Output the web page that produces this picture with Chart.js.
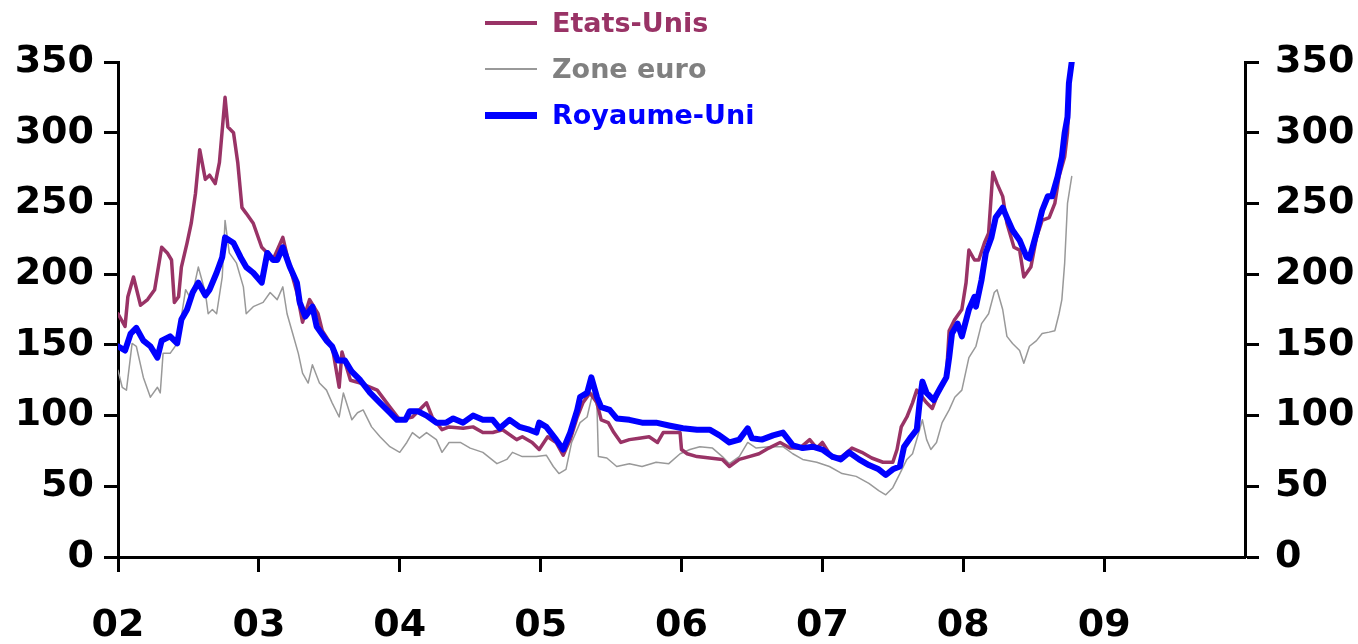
<!DOCTYPE html>
<html>
<head>
<meta charset="utf-8">
<script src="https://cdn.jsdelivr.net/npm/chart.js@4/dist/chart.umd.min.js"></script>
<style>
  html, body { margin: 0; padding: 0; background: #fff; }
  #wrap { position: relative; width: 1358px; height: 644px; }
  #legend { position: absolute; left: 485px; top: 0; font: bold 27px "DejaVu Sans", sans-serif; }
  .item { display: flex; align-items: center; height: 46px; line-height: 46px; }
  .swatch { width: 52px; margin-right: 15px; }
</style>
</head>
<body>
<div id="wrap">
  <canvas id="chart" width="1358" height="644"></canvas>
  <div id="legend"></div>
</div>
<script>
// spreads, daily index: [year, value]
const usData = [
  [2002.00,172],[2002.05,163],[2002.07,184],[2002.11,198],[2002.16,178],[2002.21,182],[2002.26,189],[2002.31,219],
  [2002.35,215],[2002.38,210],[2002.40,180],[2002.43,184],[2002.45,205],[2002.49,222],[2002.52,236],[2002.55,257],
  [2002.58,288],[2002.62,267],[2002.65,270],[2002.69,264],[2002.72,279],[2002.76,325],[2002.78,304],[2002.82,300],
  [2002.85,279],[2002.88,247],[2002.91,243],[2002.96,236],[2003.02,219],[2003.06,215],[2003.10,210],[2003.17,226],
  [2003.22,205],[2003.27,187],[2003.31,166],[2003.36,182],[2003.42,172],[2003.45,160],[2003.52,149],[2003.57,120],
  [2003.59,145],[2003.65,125],[2003.72,123],[2003.84,118],[2003.93,106],[2004.00,97],[2004.09,99],[2004.19,109],
  [2004.23,99],[2004.30,90],[2004.35,92],[2004.45,91],[2004.52,92],[2004.59,88],[2004.66,88],[2004.73,90],
  [2004.83,83],[2004.87,85],[2004.94,81],[2004.99,76],[2005.05,85],[2005.11,81],[2005.16,72],[2005.21,83],
  [2005.26,99],[2005.30,109],[2005.35,116],[2005.40,109],[2005.43,97],[2005.48,95],[2005.52,88],[2005.57,81],
  [2005.63,83],[2005.70,84],[2005.77,85],[2005.83,81],[2005.87,88],[2005.94,88],[2005.99,88],[2006.00,76],
  [2006.04,73],[2006.11,71],[2006.20,70],[2006.29,69],[2006.34,64],[2006.41,69],[2006.48,71],[2006.55,73],
  [2006.62,77],[2006.70,81],[2006.77,77],[2006.84,77],[2006.91,83],[2006.96,77],[2007.00,81],[2007.07,70],
  [2007.14,71],[2007.21,77],[2007.28,74],[2007.35,70],[2007.43,67],[2007.50,67],[2007.53,76],[2007.56,92],
  [2007.60,99],[2007.64,109],[2007.67,118],[2007.74,109],[2007.78,105],[2007.83,118],[2007.88,127],[2007.90,160],
  [2007.94,168],[2007.99,175],[2008.02,194],[2008.04,217],[2008.08,210],[2008.11,210],[2008.15,222],[2008.18,229],
  [2008.21,272],[2008.24,264],[2008.28,255],[2008.31,236],[2008.36,219],[2008.40,217],[2008.43,198],[2008.48,205],
  [2008.52,226],[2008.56,238],[2008.61,240],[2008.65,250],[2008.68,269],[2008.72,283],[2008.74,300],[2008.75,320]
];

const euroData = [
  [2002.00,132],[2002.03,120],[2002.06,118],[2002.10,151],[2002.13,149],[2002.18,127],[2002.23,113],[2002.28,120],
  [2002.30,116],[2002.32,144],[2002.37,144],[2002.42,151],[2002.48,189],[2002.52,182],[2002.57,205],[2002.62,187],
  [2002.64,172],[2002.67,175],[2002.70,172],[2002.74,198],[2002.76,238],[2002.79,215],[2002.84,208],[2002.89,191],
  [2002.91,172],[2002.96,177],[2003.03,180],[2003.08,187],[2003.13,182],[2003.17,191],[2003.20,172],[2003.24,158],
  [2003.28,144],[2003.31,130],[2003.35,123],[2003.38,136],[2003.43,123],[2003.48,118],[2003.52,109],[2003.57,99],
  [2003.60,116],[2003.66,97],[2003.70,102],[2003.74,104],[2003.80,92],[2003.86,85],[2003.93,78],[2004.00,74],
  [2004.05,81],[2004.09,88],[2004.14,84],[2004.19,88],[2004.26,83],[2004.30,74],[2004.35,81],[2004.43,81],
  [2004.50,77],[2004.59,74],[2004.69,66],[2004.76,69],[2004.80,74],[2004.87,71],[2004.97,71],[2005.04,72],
  [2005.09,64],[2005.13,59],[2005.18,62],[2005.22,81],[2005.28,95],[2005.33,99],[2005.37,116],[2005.40,106],
  [2005.41,71],[2005.47,70],[2005.54,64],[2005.63,66],[2005.72,64],[2005.82,67],[2005.91,66],[2005.99,73],
  [2006.06,76],[2006.13,78],[2006.22,77],[2006.29,71],[2006.34,66],[2006.41,71],[2006.47,81],[2006.53,77],
  [2006.62,78],[2006.72,78],[2006.79,73],[2006.86,69],[2006.96,67],[2007.05,64],[2007.14,59],[2007.24,57],
  [2007.33,52],[2007.40,47],[2007.45,44],[2007.50,49],[2007.55,59],[2007.60,69],[2007.64,73],[2007.69,90],
  [2007.71,97],[2007.74,83],[2007.77,76],[2007.81,81],[2007.85,95],[2007.90,104],[2007.94,113],[2007.99,118],
  [2008.04,141],[2008.09,149],[2008.13,165],[2008.18,172],[2008.22,187],[2008.24,189],[2008.28,175],[2008.31,156],
  [2008.35,151],[2008.40,146],[2008.43,137],[2008.47,149],[2008.52,153],[2008.56,158],[2008.61,159],[2008.65,160],
  [2008.68,172],[2008.70,182],[2008.72,208],[2008.74,250],[2008.77,269]
];

const ukData = [
  [2002.00,149],[2002.05,146],[2002.09,158],[2002.13,162],[2002.18,153],[2002.23,149],[2002.28,141],[2002.31,153],
  [2002.37,156],[2002.42,151],[2002.45,168],[2002.49,175],[2002.53,187],[2002.57,194],[2002.62,185],[2002.65,189],
  [2002.70,201],[2002.74,212],[2002.76,226],[2002.82,222],[2002.87,212],[2002.91,205],[2002.96,201],[2003.02,194],
  [2003.06,215],[2003.10,210],[2003.13,210],[2003.17,219],[2003.22,205],[2003.27,194],[2003.29,180],[2003.33,170],
  [2003.38,177],[2003.41,163],[2003.48,153],[2003.52,149],[2003.56,139],[2003.61,139],[2003.66,131],[2003.72,125],
  [2003.79,116],[2003.86,109],[2003.93,102],[2003.98,97],[2004.04,97],[2004.07,103],[2004.13,103],[2004.19,100],
  [2004.26,95],[2004.33,95],[2004.38,98],[2004.45,95],[2004.52,100],[2004.59,97],[2004.66,97],[2004.71,91],
  [2004.78,97],[2004.85,92],[2004.92,90],[2004.97,88],[2004.99,95],[2005.04,92],[2005.11,83],[2005.16,76],
  [2005.21,88],[2005.26,104],[2005.28,113],[2005.33,116],[2005.36,127],[2005.40,113],[2005.43,106],[2005.49,104],
  [2005.54,98],[2005.63,97],[2005.72,95],[2005.82,95],[2005.91,93],[2006.01,91],[2006.11,90],[2006.20,90],
  [2006.27,86],[2006.34,81],[2006.41,83],[2006.47,91],[2006.50,84],[2006.57,83],[2006.65,86],[2006.72,88],
  [2006.79,79],[2006.86,77],[2006.93,78],[2007.00,76],[2007.07,71],[2007.13,69],[2007.19,74],[2007.26,69],
  [2007.33,65],[2007.40,62],[2007.45,58],[2007.50,62],[2007.55,64],[2007.58,78],[2007.63,85],[2007.67,90],
  [2007.69,109],[2007.71,124],[2007.74,116],[2007.79,111],[2007.84,120],[2007.88,127],[2007.90,141],[2007.92,158],
  [2007.96,165],[2007.99,156],[2008.04,175],[2008.08,184],[2008.09,177],[2008.13,196],[2008.16,215],[2008.20,226],
  [2008.23,240],[2008.28,247],[2008.31,240],[2008.35,231],[2008.40,224],[2008.45,212],[2008.47,211],[2008.52,229],
  [2008.56,245],[2008.60,255],[2008.63,255],[2008.67,269],[2008.70,283],[2008.72,300],[2008.74,311],[2008.75,335],
  [2008.77,350]
];

const seriesNames = ["Etats-Unis", "Zone euro", "Royaume-Uni"];
const yearLabels = ["02", "03", "04", "05", "06", "07", "08", "09"];
const firstYear = 2002;
const lastYear = 2010;
const yMax = 350;

const lineColors = ["#993366", "#999999", "#0000ff"];
const textColors = ["#993366", "#808080", "#0000ff"];
const lineWidths = [3.5, 1.5, 6];

const toPoints = (rows) => rows.map(([x, y]) => ({ x, y }));

// legend as plain html, stacked like the original
const legendEl = document.getElementById("legend");
seriesNames.forEach((name, i) => {
  const item = document.createElement("div");
  item.className = "item";
  item.innerHTML = `<span class="swatch" style="border-top:${lineWidths[i] + 1}px solid ${lineColors[i]}"></span>` +
    `<span style="color:${textColors[i]}">${name}</span>`;
  legendEl.appendChild(item);
});

const tickFont = { family: "'DejaVu Sans', sans-serif", size: 38, weight: "bold" };
const axisGrid = { drawOnChartArea: false, tickLength: 14, tickWidth: 3, tickColor: "#000" };
const axisBorder = { color: "#000", width: 3 };

const yAxis = (position, width, padding) => ({
  position,
  min: 0,
  max: yMax,
  ticks: { stepSize: 50, font: tickFont, color: "#000", padding },
  grid: axisGrid,
  border: axisBorder,
  afterFit: (scale) => { scale.width = width; },
});

new Chart(document.getElementById("chart"), {
  type: "line",
  data: {
    datasets: [
      { label: seriesNames[2], data: toPoints(ukData), borderColor: lineColors[2], borderWidth: lineWidths[2], order: 0 },
      { label: seriesNames[0], data: toPoints(usData), borderColor: lineColors[0], borderWidth: lineWidths[0], order: 1 },
      { label: seriesNames[1], data: toPoints(euroData), borderColor: lineColors[1], borderWidth: lineWidths[1], order: 2 },
    ],
  },
  options: {
    responsive: false,
    animation: false,
    elements: { point: { radius: 0 }, line: { tension: 0, borderJoinStyle: "round", borderCapStyle: "round" } },
    layout: { padding: { top: 62, left: 0, right: 0, bottom: 0 } },
    plugins: { legend: { display: false }, tooltip: { enabled: false } },
    scales: {
      x: {
        type: "linear",
        min: firstYear,
        max: lastYear,
        ticks: {
          stepSize: 1,
          font: tickFont,
          color: "#000",
          padding: 31,
          maxRotation: 0,
          autoSkip: false,
          callback: (v) => yearLabels[Math.round(v) - firstYear] || "",
        },
        grid: {
          drawOnChartArea: false,
          tickLength: 15,
          tickWidth: 3,
          // no tick under the right axis corner
          tickColor: (c) => (c.tick && Math.round(c.tick.value) === lastYear ? "rgba(0,0,0,0)" : "#000"),
        },
        border: axisBorder,
        afterFit: (scale) => { scale.height = 87; },
      },
      y: yAxis("left", 118, 10),
      y2: yAxis("right", 113, 16),
    },
  },
});
</script>
</body>
</html>
